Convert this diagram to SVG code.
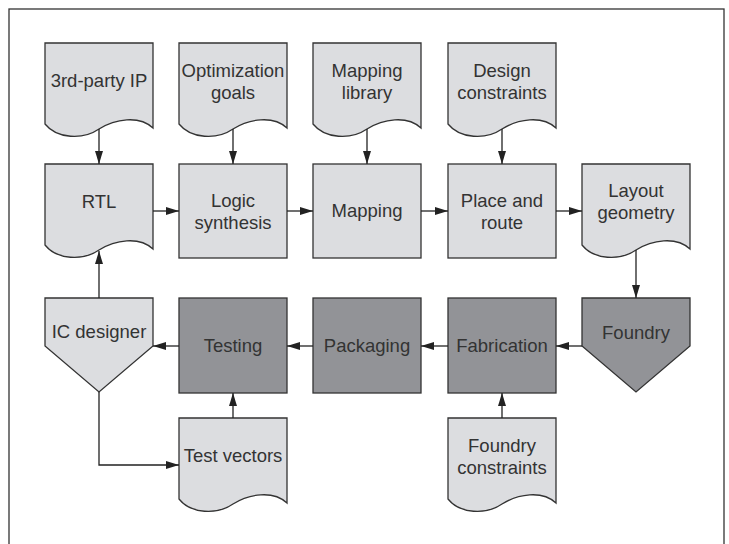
<svg xmlns="http://www.w3.org/2000/svg" xmlns:xlink="http://www.w3.org/1999/xlink" width="729" height="544" viewBox="0 0 729 544">
<style>
.lt{fill:#dcdde0;stroke:#333;stroke-width:1.3}
.dk{fill:#929397;stroke:#333;stroke-width:1.3}
text{font-family:"Liberation Sans",Arial,Helvetica,sans-serif;font-size:18.5px;fill:#333;text-anchor:middle}
.c{fill:none;stroke:#222;stroke-width:1.3;marker-end:url(#ah)}
</style>
<defs>
<marker id="ah" markerUnits="userSpaceOnUse" markerWidth="13" markerHeight="8" refX="13" refY="4" orient="auto">
<path d="M0,0 L13,4 L0,8 Z" fill="#222"/>
</marker>
<path id="doc" d="M0,81 V0 H108 V85 C94,72 70,76 54,86 C38,97 12,96 0,81 Z"/>
<rect id="box" width="108" height="94"/>
<rect id="box2" width="108" height="95"/>
<path id="pent" d="M0,0 H108 V48 L54,94 L0,48 Z"/>
</defs>
<rect x="9" y="9" width="715" height="560" fill="none" stroke="#333" stroke-width="1.3"/>

<g id="third-party-ip" transform="translate(45,43)">
<use href="#doc" class="lt"/>
<text x="54" y="44">3rd-party IP</text>
</g>
<g id="optimization-goals" transform="translate(179,43)">
<use href="#doc" class="lt"/>
<text x="54" y="34">Optimization</text>
<text x="54" y="56">goals</text>
</g>
<g id="mapping-library" transform="translate(313,43)">
<use href="#doc" class="lt"/>
<text x="54" y="34">Mapping</text>
<text x="54" y="56">library</text>
</g>
<g id="design-constraints" transform="translate(448,43)">
<use href="#doc" class="lt"/>
<text x="54" y="34">Design</text>
<text x="54" y="56">constraints</text>
</g>

<g id="rtl" transform="translate(45,164)">
<use href="#doc" class="lt"/>
<text x="54" y="44">RTL</text>
</g>
<g id="logic-synthesis" transform="translate(179,164)">
<use href="#box" class="lt"/>
<text x="54" y="43">Logic</text>
<text x="54" y="65">synthesis</text>
</g>
<g id="mapping" transform="translate(313,164)">
<use href="#box" class="lt"/>
<text x="54" y="53">Mapping</text>
</g>
<g id="place-and-route" transform="translate(448,164)">
<use href="#box" class="lt"/>
<text x="54" y="43">Place and</text>
<text x="54" y="65">route</text>
</g>
<g id="layout-geometry" transform="translate(582,164)">
<use href="#doc" class="lt"/>
<text x="54" y="33">Layout</text>
<text x="54" y="55">geometry</text>
</g>

<g id="ic-designer" transform="translate(45,298)">
<use href="#pent" class="lt"/>
<text x="54" y="40">IC designer</text>
</g>
<g id="testing" transform="translate(179,298)">
<use href="#box2" class="dk"/>
<text x="54" y="54">Testing</text>
</g>
<g id="packaging" transform="translate(313,298)">
<use href="#box2" class="dk"/>
<text x="54" y="54">Packaging</text>
</g>
<g id="fabrication" transform="translate(448,298)">
<use href="#box2" class="dk"/>
<text x="54" y="54">Fabrication</text>
</g>
<g id="foundry" transform="translate(582,298)">
<use href="#pent" class="dk"/>
<text x="54" y="41">Foundry</text>
</g>

<g id="test-vectors" transform="translate(179,418)">
<use href="#doc" class="lt"/>
<text x="54" y="44">Test vectors</text>
</g>
<g id="foundry-constraints" transform="translate(448,418)">
<use href="#doc" class="lt"/>
<text x="54" y="34">Foundry</text>
<text x="54" y="56">constraints</text>
</g>

<g id="connectors">
<path class="c" d="M99,129 V164"/>
<path class="c" d="M233,129 V164"/>
<path class="c" d="M367,129 V164"/>
<path class="c" d="M502,129 V164"/>
<path class="c" d="M153,211 H179"/>
<path class="c" d="M287,211 H313"/>
<path class="c" d="M421,211 H448"/>
<path class="c" d="M556,211 H582"/>
<path class="c" d="M636,250 V298"/>
<path class="c" d="M582,346 H556"/>
<path class="c" d="M448,346 H421"/>
<path class="c" d="M313,346 H287"/>
<path class="c" d="M179,346 H153"/>
<path class="c" d="M99,298 V251"/>
<path class="c" d="M99,392 V465 H179"/>
<path class="c" d="M233,418 V393"/>
<path class="c" d="M502,418 V393"/>
</g>
</svg>
